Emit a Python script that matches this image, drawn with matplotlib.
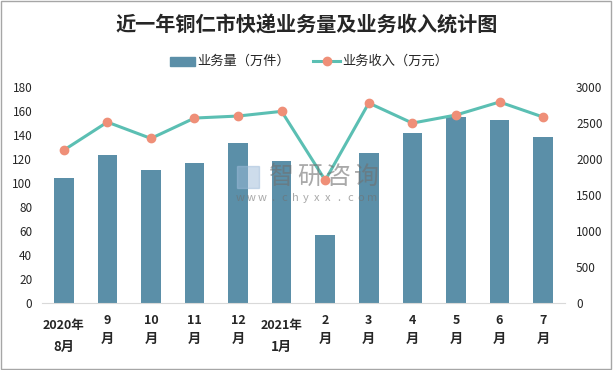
import matplotlib
matplotlib.use("Agg")
import matplotlib.pyplot as plt
import matplotlib.transforms as mtransforms
from matplotlib.patches import Rectangle
from matplotlib.lines import Line2D

plt.rcParams['font.family'] = ['Noto Sans CJK SC', 'DejaVu Sans']

categories = ["2020年\n8月", "9\n月", "10\n月", "11\n月", "12\n月", "2021年\n1月",
              "2\n月", "3\n月", "4\n月", "5\n月", "6\n月", "7\n月"]
volume = [104, 123, 110.5, 116.5, 132.8, 117.6, 56.5, 124.3, 141, 154.3, 152.2, 137.6]
revenue = [2117, 2507, 2280, 2563, 2591, 2656, 1699, 2772, 2493, 2605, 2786, 2577]
left_ticks = [0, 20, 40, 60, 80, 100, 120, 140, 160, 180]
right_ticks = [0, 500, 1000, 1500, 2000, 2500, 3000]

bar_color = "#5b8fa8"
line_color = "#5bbfb3"
marker_color = "#ef8f78"
text_color = "#262626"

W, H = 613, 370
fig = plt.figure(figsize=(W / 100, H / 100), dpi=100)
ax = fig.add_axes([0.0685, 0.182, 0.853, 0.584])
ax2 = ax.twinx()

x = list(range(len(categories)))
ax.bar(x, volume, width=0.45, color=bar_color, zorder=2)
ax2.plot(x, revenue, color=line_color, lw=2.2, marker='o', markersize=6,
         markerfacecolor=marker_color, markeredgecolor=marker_color, zorder=3)

ax.set_xlim(-0.5, len(categories) - 0.5)
ax.set_ylim(0, 180)
ax2.set_ylim(0, 3000)
ax.set_yticks(left_ticks)
ax2.set_yticks(right_ticks)
ax.set_xticks(x)
ax.set_xticklabels([])

for a in (ax, ax2):
    for s in a.spines.values():
        s.set_visible(False)
    a.tick_params(length=0, labelsize=8.5, colors=text_color)
ax.spines['bottom'].set_visible(True)
ax.spines['bottom'].set_color('#d9d9d9')
ax.tick_params(axis='y', pad=7)
ax2.tick_params(axis='y', pad=8)

# x category labels (two lines each)
trans = mtransforms.blended_transform_factory(ax.transData, fig.transFigure)
for xi, lab in zip(x, categories):
    top, bottom = lab.split("\n")
    if len(top) > 2:
        y1, y2 = 325, 347
    else:
        y1, y2 = 321, 339
    ax.text(xi, 1 - y1 / H, top, transform=trans, ha='center', va='center',
            fontsize=9, fontweight='bold', color=text_color, clip_on=False)
    ax.text(xi, 1 - y2 / H, bottom, transform=trans, ha='center', va='center',
            fontsize=9.5, fontweight='bold', color=text_color, clip_on=False)

# Title
fig.text(0.5, 1 - 25 / H, "近一年铜仁市快递业务量及业务收入统计图", ha='center', va='center',
         fontsize=14.5, fontweight='bold', color=text_color)

# Legend
fig.patches.append(Rectangle((170 / W, 1 - 66 / H), 25 / W, 9 / H,
                             transform=fig.transFigure, color=bar_color))
fig.text(197 / W, 1 - 61 / H, "业务量（万件）", ha='left', va='center', fontsize=9.5, color=text_color)
fig.lines.append(Line2D([313 / W, 340 / W], [1 - 61 / H, 1 - 61 / H],
                        transform=fig.transFigure, color=line_color, lw=2.2))
fig.lines.append(Line2D([326.5 / W], [1 - 61 / H], transform=fig.transFigure,
                        marker='o', markersize=6, color=marker_color, lw=0))
fig.text(342 / W, 1 - 61 / H, "业务收入（万元）", ha='left', va='center', fontsize=9.5, color=text_color)

# Watermark
fig.patches.append(Rectangle((237 / W, 1 - 188 / H), 22 / W, 22 / H,
                             transform=fig.transFigure, color='#9dbbd8', alpha=0.5))
for i, ch in enumerate("智研咨询"):
    fig.text((282 + i * 28) / W, 1 - 177 / H, ch, ha='center', va='center', fontsize=18,
             color='#707070', alpha=0.6)
for i, ch in enumerate("www.chyxx.com"):
    fig.text((240 + i * 11) / W, 1 - 198 / H, ch, ha='center', va='center',
             fontsize=8, color='#707070', alpha=0.6)

# Border
fig.patches.append(Rectangle((0.002, 0.003), 0.995, 0.993, transform=fig.transFigure,
                             fill=False, edgecolor='#a6a6a6', lw=1))

fig.savefig("out.png", dpi=100)
